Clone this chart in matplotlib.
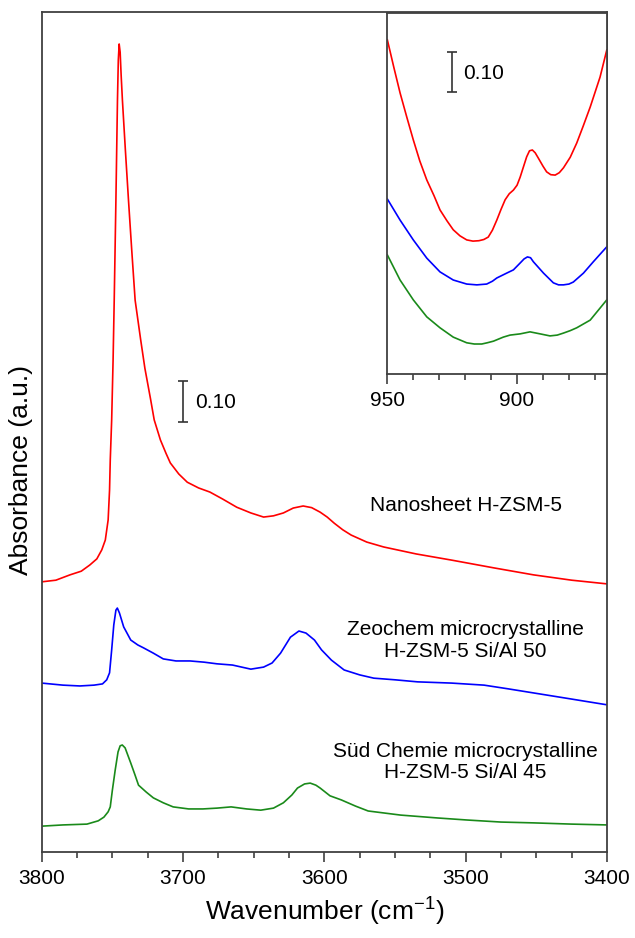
import numpy as np
import matplotlib
matplotlib.use("Agg")
import matplotlib.pyplot as plt
from matplotlib.ticker import MultipleLocator

plt.rcParams['font.family'] = ['Liberation Sans', 'DejaVu Sans']
plt.rcParams['mathtext.fontset'] = 'custom'
plt.rcParams['mathtext.rm'] = 'Liberation Sans'
plt.rcParams['mathtext.it'] = 'Liberation Sans:italic'

# main panel: OH stretching region (offsets included)
red_wn = [3800, 3790, 3780, 3772, 3766, 3761, 3757.5, 3755, 3753, 3752, 3751.5, 3750.5,
          3749.5, 3748.7, 3747.5, 3746.4, 3745.8, 3745.2, 3744.5, 3743.8, 3742.9, 3740.8,
          3738.6, 3736.3, 3733.9, 3730, 3727, 3723, 3720.4, 3716, 3712, 3709, 3703, 3697, 3689, 3681,
          3672, 3662, 3652, 3643, 3636, 3629, 3622, 3615, 3609, 3603, 3598, 3593, 3587, 3581, 3570,
          3558, 3535, 3510, 3480, 3452, 3425, 3400]
red_abs = [0.659, 0.663, 0.676, 0.685, 0.700, 0.715, 0.737, 0.761, 0.810, 0.883, 0.956, 1.054,
           1.200, 1.346, 1.590, 1.834, 1.932, 1.971, 1.951, 1.895, 1.834, 1.712,
           1.590, 1.468, 1.346, 1.250, 1.180, 1.105, 1.054, 1.005, 0.972, 0.949, 0.922, 0.902, 0.888, 0.878,
           0.861, 0.841, 0.827, 0.817, 0.820, 0.827, 0.839, 0.844, 0.840, 0.829, 0.817, 0.802, 0.786, 0.773, 0.756,
           0.744, 0.727, 0.712, 0.693, 0.676, 0.663, 0.654]

blue_wn = [3800, 3785, 3773, 3763, 3757, 3754, 3752, 3750.5, 3749, 3747.5, 3746.5, 3745,
           3742, 3737, 3732, 3728, 3721, 3714, 3705, 3695, 3685, 3676, 3665, 3652, 3643,
           3637, 3631, 3624, 3618, 3613, 3607, 3602, 3595, 3586, 3575, 3565, 3550, 3534,
           3510, 3487, 3470, 3452, 3425, 3400]
blue_abs = [0.412, 0.407, 0.405, 0.407, 0.410, 0.420, 0.437, 0.493, 0.554, 0.590, 0.595, 0.583,
            0.549, 0.517, 0.505, 0.498, 0.485, 0.471, 0.466, 0.466, 0.463, 0.459, 0.456, 0.446, 0.451,
            0.461, 0.485, 0.524, 0.539, 0.534, 0.517, 0.493, 0.468, 0.444, 0.432, 0.424, 0.420, 0.415,
            0.412, 0.407, 0.398, 0.388, 0.373, 0.359]

green_wn = [3800, 3785, 3768, 3760, 3756, 3753, 3751.5, 3750, 3748, 3746, 3744.5, 3743,
            3741, 3737, 3734, 3731.5, 3726, 3721, 3714, 3707, 3696, 3686, 3676, 3666, 3655,
            3645, 3636, 3629, 3623, 3619, 3614, 3610, 3606, 3603, 3596, 3588, 3578, 3569,
            3546, 3520, 3499, 3475, 3452, 3425, 3400]
green_abs = [0.063, 0.066, 0.068, 0.076, 0.085, 0.098, 0.110, 0.151, 0.200, 0.244, 0.259, 0.261,
             0.254, 0.217, 0.188, 0.163, 0.146, 0.132, 0.120, 0.110, 0.105, 0.105, 0.107, 0.110, 0.105,
             0.102, 0.107, 0.120, 0.139, 0.156, 0.166, 0.168, 0.163, 0.156, 0.137, 0.127, 0.112, 0.100,
             0.090, 0.083, 0.078, 0.073, 0.071, 0.068, 0.066]

# inset: framework region
ins_red_wn = [950, 947.5, 945.1, 942.5, 940, 937.5, 934.8, 932, 929.7, 927, 924.6, 922, 919.4,
              917, 914.7, 912.8, 911.1, 909.5, 907.8, 906.2, 904.6, 903, 901.4, 900, 898.8, 897.5,
              896.3, 895.2, 894.1, 893, 891.8, 890, 888.6, 887, 885.3, 883.7, 882.1, 879.5, 877,
              874.5, 871.8, 870, 868, 865.4]
ins_red_abs = [0.825, 0.757, 0.694, 0.634, 0.578, 0.526, 0.479, 0.440, 0.405, 0.378, 0.356, 0.341, 0.331,
               0.328, 0.329, 0.332, 0.338, 0.355, 0.380, 0.406, 0.430, 0.445, 0.454, 0.466, 0.486, 0.512,
               0.536, 0.551, 0.553, 0.546, 0.533, 0.513, 0.499, 0.492, 0.491, 0.497, 0.509, 0.535, 0.570,
               0.612, 0.659, 0.694, 0.733, 0.800]

ins_blue_wn = [950, 945.1, 940, 934.8, 929.7, 924.6, 919.4, 915.5, 911.7, 909.5, 907.8, 904, 901.4,
               898.8, 897.3, 896, 894.8, 893.7, 889.8, 886, 884, 882.1, 880, 878.3, 874.4, 870.6, 865.4]
ins_blue_abs = [0.432, 0.380, 0.331, 0.286, 0.252, 0.232, 0.222, 0.220, 0.222, 0.229, 0.237, 0.249, 0.257,
                0.274, 0.284, 0.289, 0.287, 0.277, 0.249, 0.225, 0.220, 0.220, 0.222, 0.227, 0.249, 0.277, 0.314]

ins_green_wn = [950, 945.1, 940, 934.8, 929.7, 924.6, 919.4, 916.5, 913.6, 911.5, 909.1, 905.3,
                902.7, 898.8, 895, 891.1, 887.3, 884.5, 882.1, 879.5, 877, 871.8, 865.4]
ins_green_abs = [0.294, 0.232, 0.183, 0.141, 0.114, 0.091, 0.077, 0.074, 0.074, 0.077, 0.081, 0.091,
                 0.096, 0.099, 0.104, 0.099, 0.094, 0.096, 0.101, 0.107, 0.114, 0.133, 0.183]

labels = ['Nanosheet H-ZSM-5',
          'Zeochem microcrystalline\nH-ZSM-5 Si/Al 50',
          'Süd Chemie microcrystalline\nH-ZSM-5 Si/Al 45']
colors = ['#ff0000', '#0000ff', '#1a8a1a']

frame_col = '#404040'

fig = plt.figure(figsize=(6.35, 9.38), dpi=100)
ax = fig.add_axes([0.0657, 0.0917, 0.8902, 0.8955])

for wn, a, c in [(red_wn, red_abs, colors[0]), (blue_wn, blue_abs, colors[1]),
                 (green_wn, green_abs, colors[2])]:
    ax.plot(wn, a, color=c, lw=1.2, solid_joinstyle='round')

ax.set_xlim(3800, 3400)
ax.set_ylim(0, 2.049)
ax.xaxis.set_major_locator(MultipleLocator(100))
ax.xaxis.set_minor_locator(MultipleLocator(25))
ax.set_yticks([])
ax.tick_params(axis='x', which='major', direction='out', length=7, width=1.2,
               color=frame_col, labelsize=15, pad=5)
ax.tick_params(axis='x', which='minor', direction='out', length=4, width=1.2, color=frame_col)
for s in ax.spines.values():
    s.set_color(frame_col)
    s.set_linewidth(1.3)

ax.set_xlabel('Wavenumber (cm$^{-1}$)', fontsize=19, labelpad=6)
ax.set_ylabel('Absorbance (a.u.)', fontsize=19)
ax.yaxis.set_label_coords(-0.015, 0.455)

ax.text(3500, 0.846, labels[0], fontsize=15, ha='center', va='center')
ax.text(3500, 0.516, labels[1], fontsize=15, ha='center', va='center',
        multialignment='center', linespacing=1.15)
ax.text(3500, 0.2195, labels[2], fontsize=15, ha='center', va='center',
        multialignment='center', linespacing=1.15)

# 0.10 scale bar
ax.errorbar([3700], [1.10], yerr=[0.05], color='#333333', capsize=3.6, elinewidth=1.2,
            capthick=1.2)
ax.text(3691.5, 1.097, '0.10', fontsize=15, ha='left', va='center')

# inset
axi = fig.add_axes([0.610, 0.6013, 0.346, 0.3852])
for wn, a, c in [(ins_red_wn, ins_red_abs, colors[0]), (ins_blue_wn, ins_blue_abs, colors[1]),
                 (ins_green_wn, ins_green_abs, colors[2])]:
    axi.plot(wn, a, color=c, lw=1.2, solid_joinstyle='round')
axi.set_xlim(950, 865.3)
axi.set_ylim(0, 0.892)
axi.xaxis.set_major_locator(MultipleLocator(50))
axi.xaxis.set_minor_locator(MultipleLocator(10))
axi.set_yticks([])
axi.tick_params(axis='x', which='major', direction='out', length=7, width=1.2,
                color=frame_col, labelsize=15, pad=5)
axi.tick_params(axis='x', which='minor', direction='out', length=4, width=1.2, color=frame_col)
for s in axi.spines.values():
    s.set_color(frame_col)
    s.set_linewidth(1.3)

axi.errorbar([925.2], [0.745], yerr=[0.05], color='#333333', capsize=3.6, elinewidth=1.2,
             capthick=1.2)
axi.text(920.8, 0.743, '0.10', fontsize=15, ha='left', va='center')

fig.savefig('out.png', dpi=100)
